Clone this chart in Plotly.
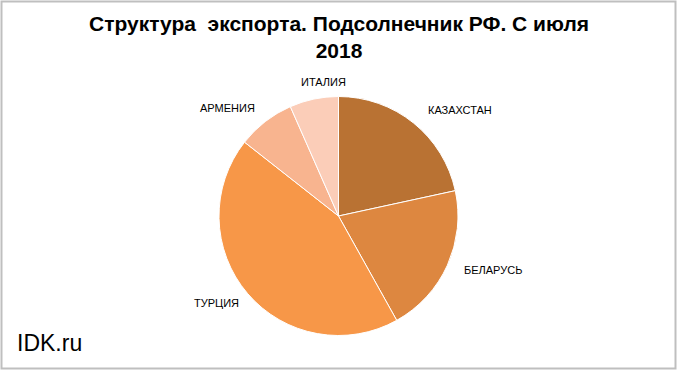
import plotly.graph_objects as go

# Data
countries = ["КАЗАХСТАН", "БЕЛАРУСЬ", "ТУРЦИЯ", "АРМЕНИЯ", "ИТАЛИЯ"]
shares = [21.6, 20.3, 43.7, 7.8, 6.6]
colors = ["#B97233", "#DD8740", "#F79748", "#F8B48F", "#FBCDB8"]

# Layout (label anchor positions in pixels, outside the pie)
W, H = 680, 375
label_px = [(460, 110), (493, 270), (216, 303), (227, 108), (323, 82)]

pie_left, pie_right, pie_top, pie_bottom = 219, 458, 96.5, 335.5

fig = go.Figure(go.Pie(
    labels=countries,
    values=shares,
    sort=False,
    direction="clockwise",
    rotation=0,
    textinfo="none",
    hoverinfo="label+percent",
    marker=dict(colors=colors, line=dict(color="white", width=1)),
    domain=dict(x=[pie_left / W, pie_right / W],
                y=[1 - pie_bottom / H, 1 - pie_top / H]),
    showlegend=False,
))

annotations = []
for name, (px, py) in zip(countries, label_px):
    annotations.append(dict(
        x=px / W, y=1 - py / H, xref="paper", yref="paper",
        text=name, showarrow=False, xanchor="center", yanchor="middle",
        font=dict(family="Liberation Sans, Arial, sans-serif", size=11, color="#000000"),
    ))

annotations.append(dict(
    x=339 / W, y=1 - 37.5 / H, xref="paper", yref="paper",
    text="<b>Структура  экспорта. Подсолнечник РФ. С июля<br>2018</b>",
    showarrow=False, xanchor="center", yanchor="middle",
    font=dict(family="Liberation Sans, Arial, sans-serif",
              size=21, color="#000000"),
))

annotations.append(dict(
    x=15 / W, y=1 - 343 / H, xref="paper", yref="paper",
    text="IDK.ru", showarrow=False, xanchor="left", yanchor="middle",
    font=dict(family="Liberation Sans, Arial, sans-serif", size=23, color="#000000"),
))

fig.update_layout(
    width=W, height=H,
    margin=dict(l=0, r=0, t=0, b=0),
    paper_bgcolor="white",
    plot_bgcolor="white",
    annotations=annotations,
    shapes=[dict(type="rect", xref="paper", yref="paper",
                 x0=1.5 / W, x1=675.5 / W, y0=1 - 368.5 / H, y1=1 - 1.5 / H,
                 line=dict(color="#BFBFBF", width=2), fillcolor="rgba(0,0,0,0)")],
)

fig.write_html("out.html",
               config={"displayModeBar": False},
               post_script="document.body.style.margin='0px';document.body.style.overflow='hidden';")
